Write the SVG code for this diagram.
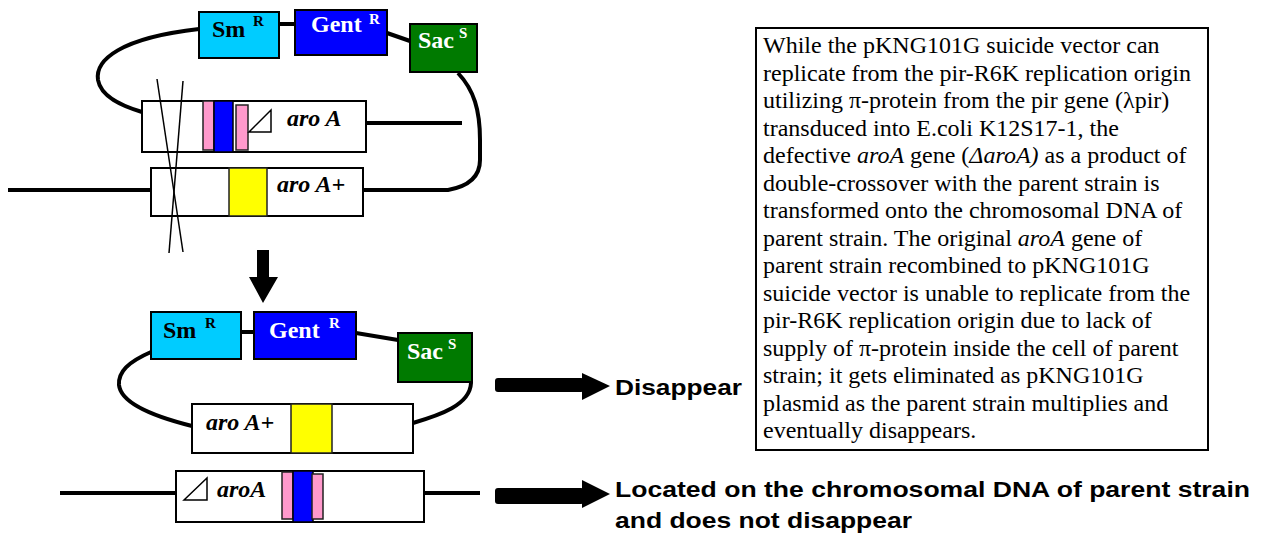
<svg xmlns="http://www.w3.org/2000/svg" width="1263" height="533" viewBox="0 0 1263 533">
<style>
.bg{fill:#ffffff}
.wire{fill:none;stroke:#000;stroke-width:4;stroke-linecap:butt}
.thin{fill:none;stroke:#000;stroke-width:1.5}
.box{fill:#fff;stroke:#000;stroke-width:2}
.sm{fill:#00CCFF;stroke:#000;stroke-width:2}
.gent{fill:#0000FF;stroke:#000;stroke-width:2}
.sac{fill:#007A00;stroke:#000;stroke-width:2}
.pink{fill:#FF99CC;stroke:#222;stroke-width:1.5}
.blue{fill:#0000FF;stroke:#000;stroke-width:1.5}
.yellow{fill:#FFFF00;stroke:#222;stroke-width:1.5}
.lbl{font-family:"Liberation Serif","Times New Roman",serif;font-weight:bold;font-size:24px}
.sup{font-family:"Liberation Serif","Times New Roman",serif;font-weight:bold;font-size:15px}
.gene{font-family:"Liberation Serif","Times New Roman",serif;font-weight:bold;font-style:italic;font-size:24px;fill:#000}
.w{fill:#fff}
.k{fill:#000}
.body{font-family:"Liberation Serif","Times New Roman",serif;font-size:24px;fill:#000}
.note{font-family:"Liberation Sans",Arial,sans-serif;font-weight:bold;font-size:22px;fill:#000}
.arrow{fill:#000}
</style>
<rect class="bg" x="0" y="0" width="1263" height="533"/>

<g id="smR-top">
  <rect class="sm" x="199" y="12" width="80" height="46"/>
  <text class="lbl k" x="212" y="37">Sm</text>
  <text class="sup k" x="253" y="26">R</text>
</g>
<g id="gentR-top">
  <rect class="gent" x="295" y="10" width="92" height="45"/>
  <text class="lbl w" x="311" y="32">Gent</text>
  <text class="sup w" x="369" y="24">R</text>
</g>
<g id="sacS-top">
  <rect class="sac" x="410" y="24" width="67" height="48"/>
  <text class="lbl w" x="418" y="48">Sac</text>
  <text class="sup w" x="459" y="38">S</text>
</g>

<g id="deltaAroA-vector">
  <rect class="box" x="142" y="101" width="224" height="51"/>
  <rect class="pink" x="203" y="101" width="11" height="49"/>
  <rect class="blue" x="214" y="101" width="19" height="51"/>
  <rect class="pink" x="236" y="105" width="12" height="45"/>
  <polygon class="thin" points="249,132 271,110 271,132"/>
  <text class="gene" x="287" y="126">aro A</text>
</g>

<g id="aroAplus-chromosome">
  <rect class="box" x="151" y="168" width="212" height="48"/>
  <rect class="yellow" x="229" y="168" width="38" height="48"/>
  <text class="gene" x="277" y="192">aro A+</text>
</g>

<g id="smR-bottom">
  <rect class="sm" x="151" y="312" width="90" height="47"/>
  <text class="lbl k" x="163" y="338">Sm</text>
  <text class="sup k" x="205" y="328">R</text>
</g>
<g id="gentR-bottom">
  <rect class="gent" x="254" y="312" width="102" height="47"/>
  <text class="lbl w" x="269" y="338">Gent</text>
  <text class="sup w" x="329" y="328">R</text>
</g>
<g id="sacS-bottom">
  <rect class="sac" x="398" y="333" width="74" height="49"/>
  <text class="lbl w" x="407" y="359">Sac</text>
  <text class="sup w" x="448" y="349">S</text>
</g>

<g id="aroAplus-vector">
  <rect class="box" x="192" y="404" width="221" height="49"/>
  <rect class="yellow" x="291" y="404" width="41" height="49"/>
  <text class="gene" x="206" y="430">aro A+</text>
</g>

<g id="deltaAroA-chromosome">
  <rect class="box" x="176" y="471" width="248" height="51"/>
  <polygon class="thin" points="184,500 207,478 207,500"/>
  <text class="gene" x="217" y="497">aroA</text>
  <rect class="pink" x="282" y="472" width="11" height="47"/>
  <rect class="blue" x="293" y="471" width="20" height="51"/>
  <rect class="pink" x="312" y="474" width="11" height="45"/>
</g>

<g id="label-disappear">
  <text class="note" x="615" y="395" textLength="127" lengthAdjust="spacingAndGlyphs">Disappear</text>
</g>

<g id="label-located">
  <text class="note" x="615" y="497" textLength="635" lengthAdjust="spacingAndGlyphs">Located on the chromosomal DNA of parent strain</text>
  <text class="note" x="615" y="528" textLength="297" lengthAdjust="spacingAndGlyphs">and does not disappear</text>
</g>

<g id="explanation">
  <rect x="756" y="28" width="452" height="422" fill="#fff" stroke="#000" stroke-width="2"/>
  <text class="body" x="763" y="53">While the pKNG101G suicide vector can</text>
  <text class="body" x="763" y="80.5">replicate from the pir-R6K replication origin</text>
  <text class="body" x="763" y="108">utilizing π-protein from the pir gene (λpir)</text>
  <text class="body" x="763" y="135.5">transduced into E.coli K12S17-1, the</text>
  <text class="body" x="763" y="163">defective <tspan font-style="italic">aroA</tspan> gene (<tspan font-style="italic">ΔaroA)</tspan> as a product of</text>
  <text class="body" x="763" y="190.5">double-crossover with the parent strain is</text>
  <text class="body" x="763" y="218">transformed onto the chromosomal DNA of</text>
  <text class="body" x="763" y="245.5">parent strain. The original <tspan font-style="italic">aroA</tspan> gene of</text>
  <text class="body" x="763" y="273">parent strain recombined to pKNG101G</text>
  <text class="body" x="763" y="300.5">suicide vector is unable to replicate from the</text>
  <text class="body" x="763" y="328">pir-R6K replication origin due to lack of</text>
  <text class="body" x="763" y="355.5">supply of π-protein inside the cell of parent</text>
  <text class="body" x="763" y="383">strain; it gets eliminated as pKNG101G</text>
  <text class="body" x="763" y="410.5">plasmid as the parent strain multiplies and</text>
  <text class="body" x="763" y="438">eventually disappears.</text>
</g>

<g id="connectors">
  <!-- top plasmid backbone -->
  <path class="wire" d="M199,29 C120,38 95,60 98,80 C101,97 122,106 142,112"/>
  <path class="wire" d="M279,24 L295,24"/>
  <path class="wire" d="M387,33 L410,41"/>
  <path class="wire" d="M363,190 L448,190 C470,186 480,175 480,160 L480,140 C480,110 474,90 458,73"/>
  <path class="wire" d="M367,123 L462,123"/>
  <path class="wire" d="M8,190 L151,190"/>
  <!-- crossover -->
  <line class="thin" x1="157" y1="79" x2="183" y2="252"/>
  <line class="thin" x1="183" y1="81" x2="169" y2="253"/>
  <!-- second plasmid backbone -->
  <path class="wire" d="M151,352 C128,362 118,372 119,385 C121,405 160,418 192,426"/>
  <path class="wire" d="M241,332 L254,332"/>
  <path class="wire" d="M356,333 L398,340"/>
  <path class="wire" d="M413,423 C440,415 470,405 471,383"/>
  <!-- chromosome line -->
  <path class="wire" d="M60,493 L176,493"/>
  <path class="wire" d="M424,493 L480,493"/>
  <!-- arrows -->
  <polygon class="arrow" points="257,250 269,250 269,277 278,277 263,303 249,277 257,277"/>
  <rect class="arrow" x="495" y="378" width="89" height="14" rx="3"/>
  <polygon class="arrow" points="582,373 610,386 582,400"/>
  <rect class="arrow" x="495" y="488" width="89" height="16" rx="3"/>
  <polygon class="arrow" points="582,480 610,494 582,508"/>
</g>
</svg>
